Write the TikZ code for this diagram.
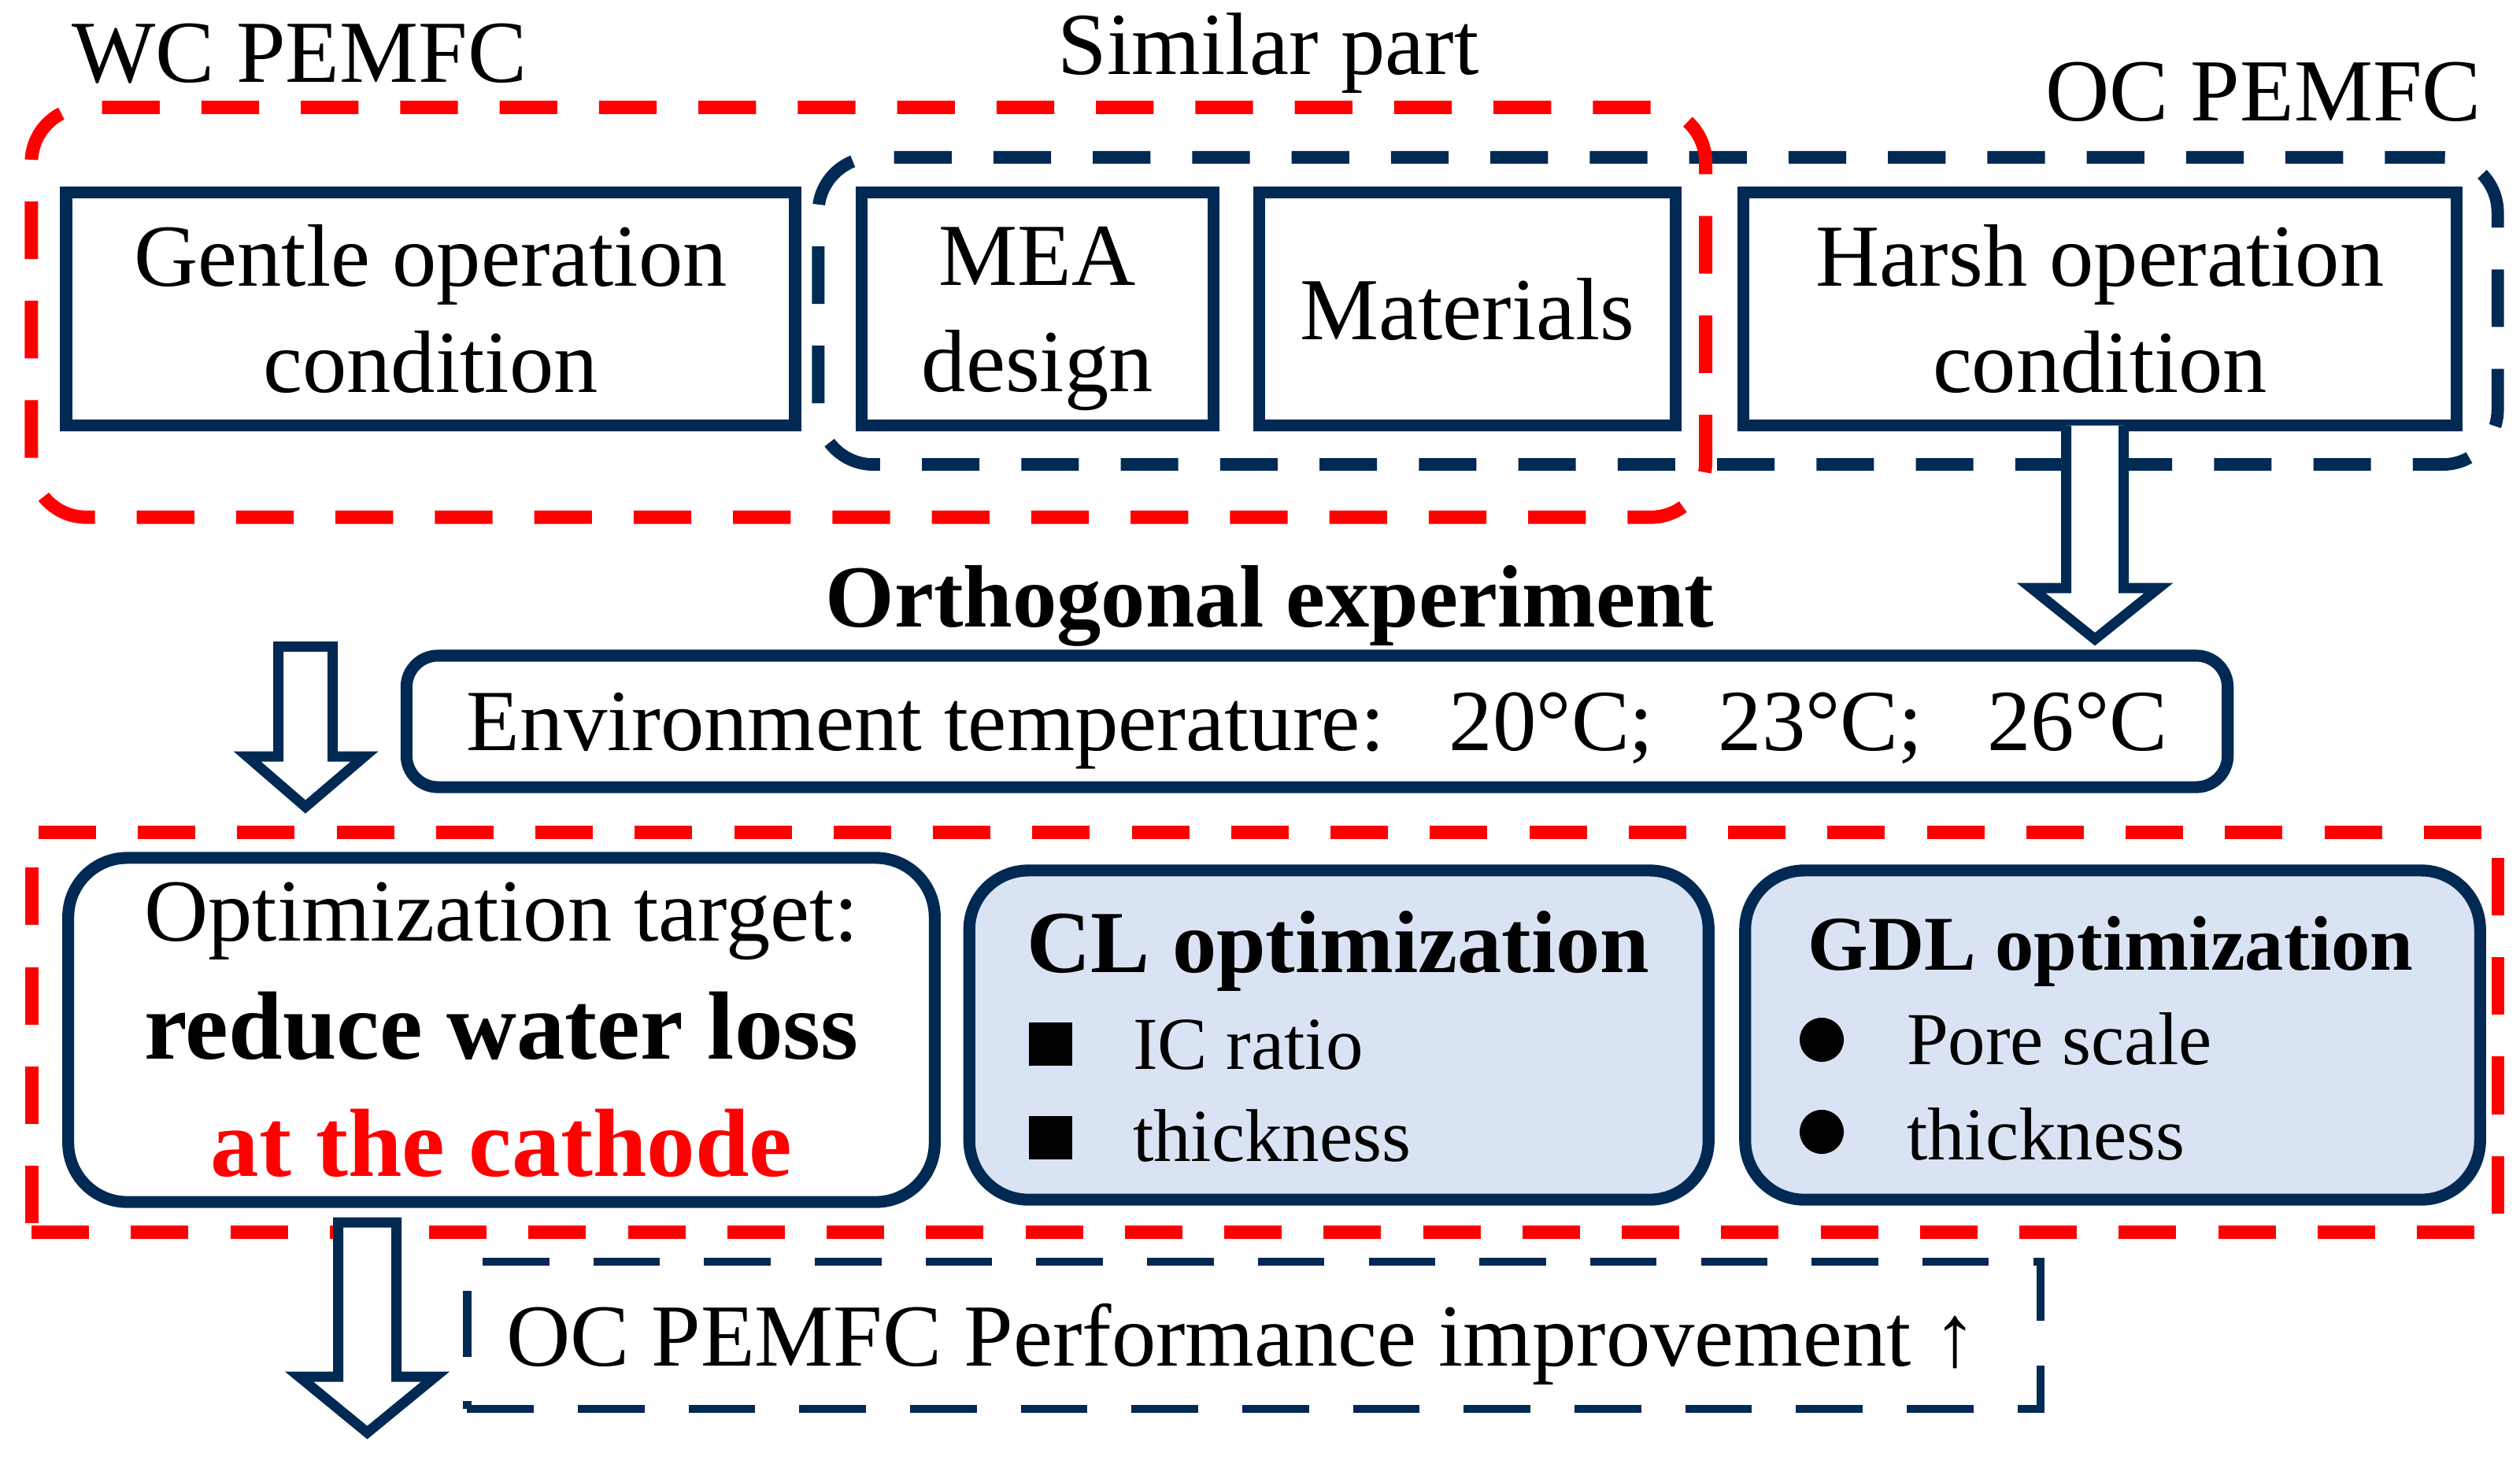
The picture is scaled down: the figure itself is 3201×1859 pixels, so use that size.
\documentclass[tikz,border=0pt]{standalone}
\usepackage{fontspec}
\setmainfont{Liberation Serif}
\definecolor{navy}{RGB}{0,41,84}
\definecolor{lblue}{RGB}{218,227,243}
\definecolor{pred}{RGB}{255,0,0}
\begin{document}
\begin{tikzpicture}[x=0.01cm,y=-0.01cm,
  every node/.style={inner sep=0pt, outer sep=0pt},
  sqbox/.style={draw=navy, line width=4.3pt, fill=white, align=center, minimum height=2.96cm,
    font=\fontsize{32}{38.4}\selectfont},
  rbox/.style={draw=navy, line width=4.3pt, rounded corners=0.75cm},
  reddash/.style={draw=pred, line width=4.8pt, dash pattern=on 20.8pt off 15.1pt},
  bluedash/.style={draw=navy, line width=4.5pt, dash pattern=on 20.8pt off 15.1pt},
  blockarrow/.style={draw=navy, fill=white, line width=3.7pt, line join=miter},
  lbl/.style={font=\fontsize{32}{38.4}\selectfont, anchor=base},
  bul/.style={font=\fontsize{27}{32}\selectfont, anchor=base west},
  sqbul/.style={fill=black, minimum size=0.55cm},
  cbul/.style={fill=black, circle, minimum size=0.56cm}
]
\useasboundingbox (0,0) rectangle (3201,1859);

% group frames
\node[bluedash, rounded corners=0.7cm, minimum width=21.32cm, minimum height=3.9cm] (ocgroup) at (2106,395) {};
\node[reddash, rounded corners=0.7cm, minimum width=21.255cm, minimum height=5.205cm] (wcgroup) at (1103.25,396.75) {};

% top boxes
\node[sqbox, minimum width=9.255cm] (gentle) at (547,392.5) {Gentle operation\\condition};
\node[sqbox, minimum width=4.465cm, text depth=0pt] (mea) at (1317.75,392.5) {MEA\\design};
\node[sqbox, minimum width=5.28cm] (mat) at (1864,392.5) {Materials};
\node[sqbox, minimum width=9.05cm] (harsh) at (2667.5,392.5) {Harsh operation\\condition};

% labels
\node[lbl, anchor=base west] (wclbl) at (91,104) {WC PEMFC};
\node[lbl] (simlbl) at (1611,94.5) {Similar part};
\node[lbl] (oclbl) at (2875,153) {OC PEMFC};
\node[lbl, font=\bfseries\fontsize{32}{38.4}\selectfont] (ortho) at (1613,796) {Orthogonal experiment};

% environment box
\node[rbox, rounded corners=0.4cm, minimum width=23.12cm, minimum height=1.67cm, fill=white,
  text depth=0pt, font=\fontsize{31.5}{37}\selectfont] (env) at (1673,916.5)
  {Environment temperature:\hspace{0.74em}20°C;\hspace{0.74em}23°C;\hspace{0.74em}26°C};

% arrow from harsh to env
\draw[blockarrow] (2624.5,540.5) -- (2624.5,747) -- (2580,747) -- (2661,812) -- (2742,747)
  -- (2697.5,747) -- (2697.5,540.5);

% bottom group
\node[reddash, minimum width=31.31cm, minimum height=5.07cm] (optgroup) at (1606.5,1311.5) {};

% left arrow
\draw[blockarrow] (353.5,821.5) -- (353.5,961) -- (314,961) -- (388,1025) -- (463,961)
  -- (422.5,961) -- (422.5,821.5) -- cycle;

\node[rbox, fill=white, minimum width=11.0cm, minimum height=4.37cm, align=center,
  font=\fontsize{35}{42.5}\selectfont] (opt) at (637,1308.5)
  {{\fontsize{32}{38}\selectfont Optimization target:}\\
   \textbf{reduce water loss}\\
   {\bfseries\color{pred}at the cathode}};

\node[rbox, fill=lblue, minimum width=9.385cm, minimum height=4.18cm] (cl) at (1700.75,1315) {};
\node[rbox, fill=lblue, minimum width=9.33cm, minimum height=4.18cm] (gdl) at (2683.5,1315) {};

\node[lbl, font=\bfseries\fontsize{32}{38.4}\selectfont] (cltitle) at (1700,1235) {CL optimization};
\node[sqbul] (clb1) at (1334,1326) {};
\node[bul] (clt1) at (1439,1358) {IC ratio};
\node[sqbul] (clb2) at (1334,1445) {};
\node[bul] (clt2) at (1439,1475) {thickness};

\node[lbl, font=\bfseries\fontsize{28}{34}\selectfont] (gdltitle) at (2681,1232) {GDL optimization};
\node[cbul] (gdlb1) at (2314,1321) {};
\node[bul] (gdlt1) at (2422,1352) {Pore scale};
\node[cbul] (gdlb2) at (2314,1438) {};
\node[bul] (gdlt2) at (2422,1473) {thickness};

% bottom arrow
\draw[blockarrow] (429.5,1553) -- (429.5,1749) -- (380,1749) -- (466.5,1820) -- (553,1749)
  -- (503.5,1749) -- (503.5,1553) -- cycle;

% performance box
\node[draw=navy, line width=2.9pt, dash pattern=on 24pt off 16pt, minimum width=19.97cm, minimum height=1.87cm] (perf) at (1592.5,1696.5) {};
\node[lbl, anchor=base west] (perftext) at (643,1735) {OC PEMFC Performance improvement ↑};
\end{tikzpicture}
\end{document}
